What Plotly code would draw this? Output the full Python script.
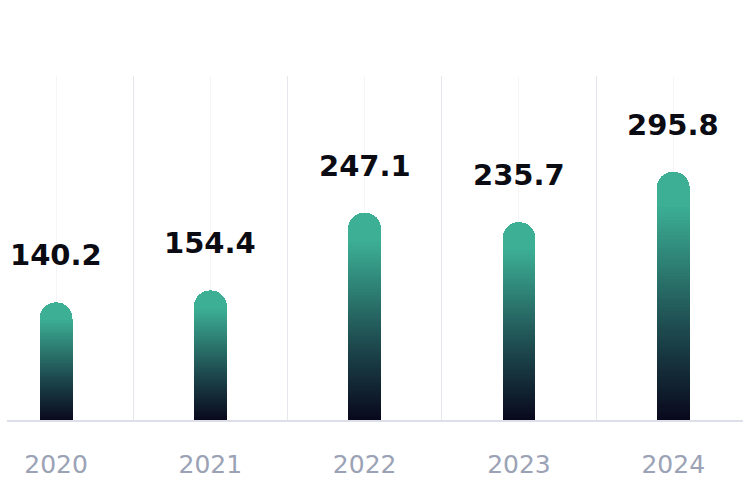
import plotly.graph_objects as go
from plotly.colors import sample_colorscale

years = ["2020", "2021", "2022", "2023", "2024"]
values = [140.2, 154.4, 247.1, 235.7, 295.8]

x = list(range(len(years)))

# gradient made of stacked slices, solid teal cap on top
n_slices = 70
top_frac = 0.13
fracs = [(1 - top_frac) / (n_slices - 1)] * (n_slices - 1) + [top_frac]
scale = [[0, "#09091d"], [0.45, "#1f4f52"], [1, "#3caf95"]]
colors = sample_colorscale(scale, [i / (n_slices - 2) for i in range(n_slices - 1)]) + ["#3caf95"]

fig = go.Figure()
for f, c in zip(fracs, colors):
    fig.add_trace(go.Bar(x=x, y=[v * f for v in values], width=0.213,
                         marker=dict(color=c, line=dict(width=0)),
                         hoverinfo="skip", showlegend=False))

for xi, v in zip(x, values):
    fig.add_annotation(x=xi, y=v, text=f"{v:.1f}", showarrow=False,
                       yanchor="bottom", yshift=28,
                       font=dict(family="DejaVu Sans", size=29, color="#0b0b14", weight="bold"))

fig.update_layout(
    width=750, height=500,
    barmode="stack", barcornerradius="50%",
    margin=dict(l=7, r=7, t=76, b=80),
    plot_bgcolor="white", paper_bgcolor="white",
    xaxis=dict(range=[-0.318, 4.452], tickvals=x, ticktext=years,
               showgrid=True, gridcolor="#f5f5f8", gridwidth=1,
               minor=dict(tick0=0.5, dtick=1, showgrid=True, gridcolor="#e6e7ee", gridwidth=1),
               showline=True, linecolor="#dcdee8", linewidth=1.5,
               zeroline=False, ticks="", ticklabelstandoff=21,
               tickfont=dict(family="DejaVu Sans", size=25, color="#9ba2b5")),
    yaxis=dict(range=[0, 410], visible=False, showgrid=False, zeroline=False),
)

fig.write_html("out.html", config={"displayModeBar": False},
               post_script="document.body.style.margin='0';")
